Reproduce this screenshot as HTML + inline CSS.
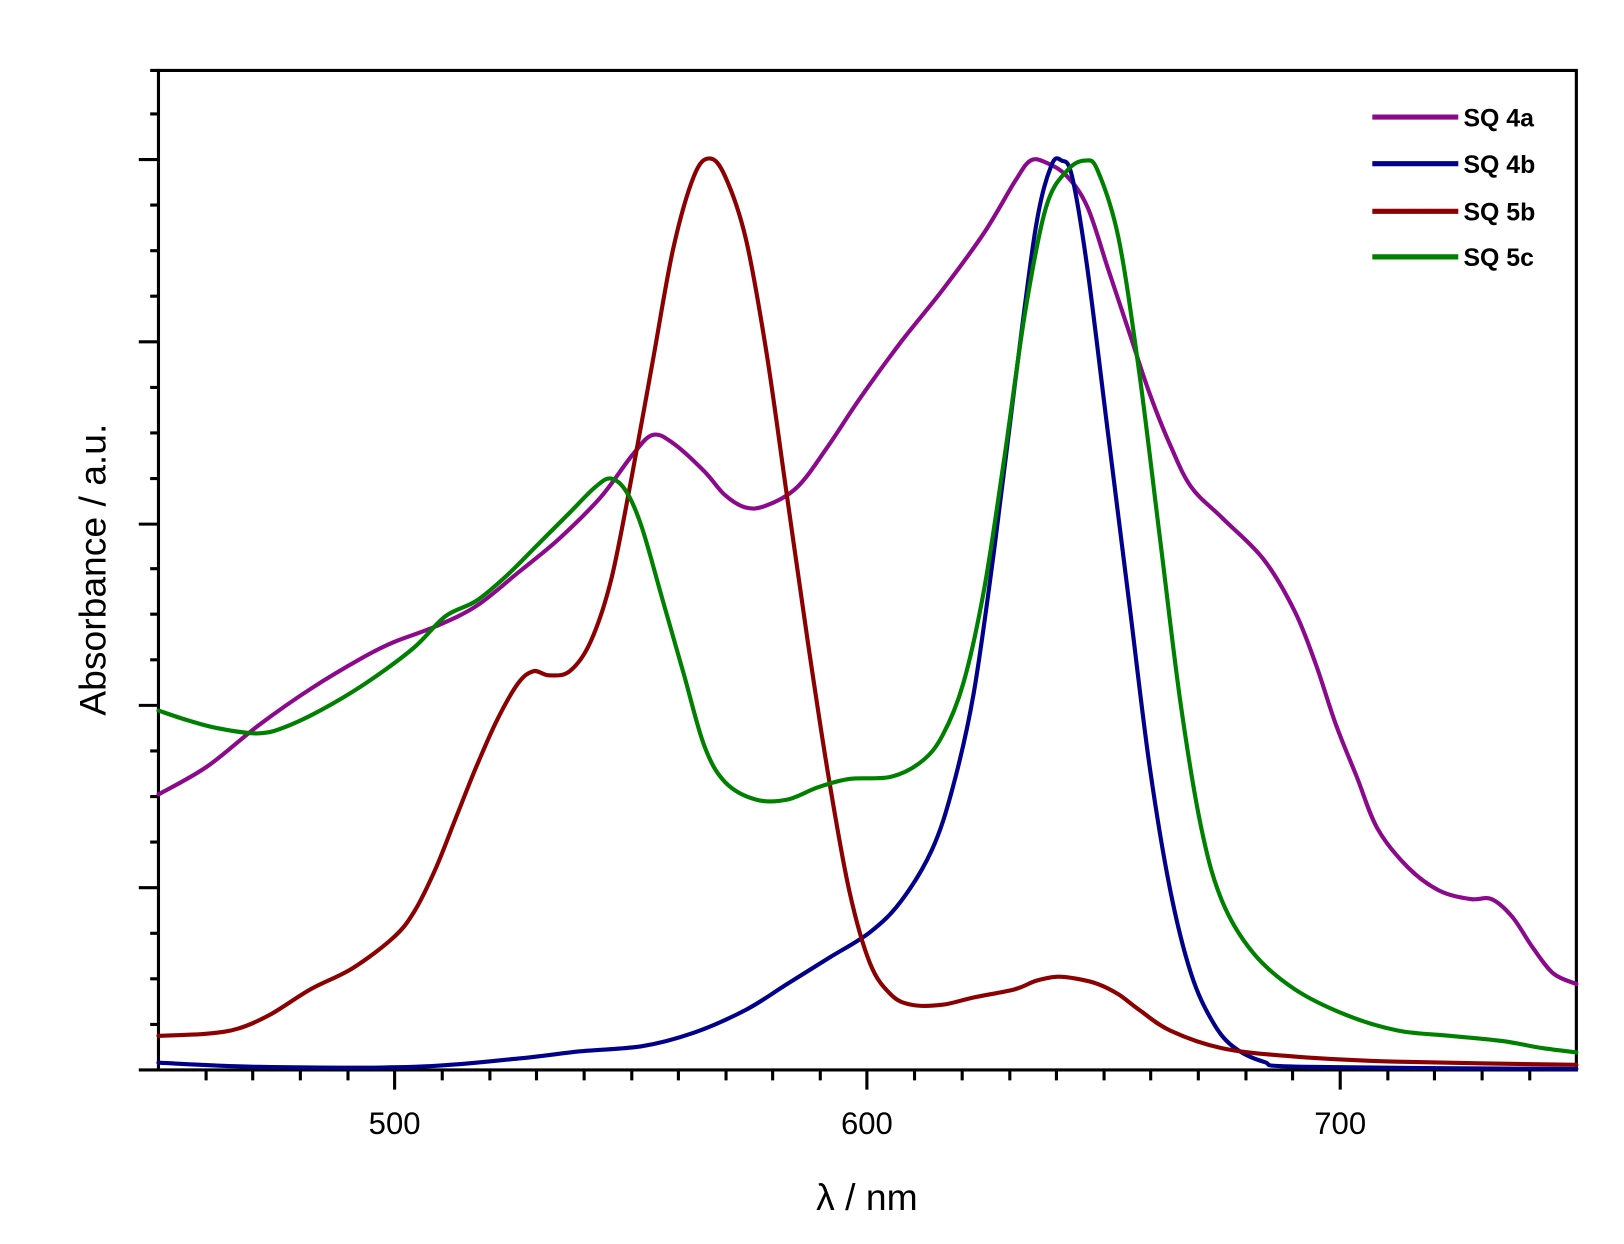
<!DOCTYPE html>
<html><head><meta charset="utf-8"><style>html,body{margin:0;padding:0;background:#fff}svg{display:block}</style></head>
<body>
<svg width="1624" height="1244" viewBox="0 0 1568 1201" preserveAspectRatio="none" xmlns="http://www.w3.org/2000/svg" font-family="Liberation Sans, sans-serif">
<rect width="1568" height="1201" fill="#fff"/>
<g stroke="#000" stroke-width="3" fill="none">
<path d="M153,68 H1522 V1033 H153 Z"/>
<path d="
M381,1033v19 M837,1033v19 M1294,1033v19
M199,1033v10 M244,1033v10 M290,1033v10 M336,1033v10 M427,1033v10 M473,1033v10 M518,1033v10 M564,1033v10 M610,1033v10 M655,1033v10 M701,1033v10 M746,1033v10 M792,1033v10 M883,1033v10 M929,1033v10 M975,1033v10 M1020,1033v10 M1066,1033v10 M1111,1033v10 M1157,1033v10 M1203,1033v10 M1248,1033v10 M1340,1033v10 M1385,1033v10 M1431,1033v10 M1477,1033v10
M153,1033h-19 M153,857h-19 M153,681h-19 M153,506h-19 M153,330h-19 M153,154h-19
M153,989h-8 M153,945h-8 M153,901h-8 M153,813h-8 M153,769h-8 M153,725h-8 M153,637h-8 M153,593h-8 M153,549h-8 M153,462h-8 M153,418h-8 M153,374h-8 M153,286h-8 M153,242h-8 M153,198h-8 M153,110h-8 M153,68h-8"/>
</g>
<g font-size="30" text-anchor="middle" fill="#000">
<text x="381" y="1095">500</text><text x="837" y="1095">600</text><text x="1294" y="1095">700</text>
</g>
<text x="837" y="1168" font-size="36" text-anchor="middle">λ / nm</text>
<text transform="translate(102,550) rotate(-90)" font-size="36" text-anchor="middle">Absorbance / a.u.</text>
<g fill="none" stroke-width="4" stroke-linejoin="round" stroke-linecap="round">
<path id="c1" stroke="#8b0a8b" data-p="153,767 200,740 250,700 300,665 350,635 380,620 420,605 460,585 500,553 540,520 580,480 610,440 630,420 650,428 680,455 700,478 720,490 740,488 770,470 800,430 830,385 870,330 910,280 950,225 980,175 995,155 1010,157 1030,170 1050,200 1070,260 1090,320 1110,380 1130,430 1150,470 1180,500 1220,540 1250,590 1270,640 1290,700 1310,750 1330,800 1360,838 1390,860 1420,868 1440,868 1460,885 1480,915 1500,940 1522,950"/>
<path stroke="#00008b" data-p="153,1026 250,1030 400,1030 500,1022 560,1015 620,1010 670,997 720,975 760,950 800,925 840,900 870,870 900,820 920,760 940,670 960,530 980,370 1000,220 1015,160 1025,155 1035,170 1050,260 1070,420 1090,580 1110,740 1130,860 1150,940 1170,985 1190,1010 1220,1025 1260,1030 1522,1032"/>
<path stroke="#8b0000" data-p="153,1000 200,998 230,993 260,980 300,955 340,935 380,905 400,880 420,840 440,790 460,740 480,695 500,660 515,648 530,652 550,648 570,620 590,560 610,460 630,350 650,240 670,170 685,153 700,170 720,230 740,340 760,480 780,620 800,750 820,860 840,930 860,960 880,970 910,970 940,963 980,955 1000,947 1020,943 1040,945 1060,950 1080,960 1100,975 1130,995 1180,1012 1250,1020 1350,1025 1522,1028"/>
<path stroke="#008000" data-p="153,686 180,695 210,703 250,708 280,700 320,680 360,655 400,625 430,595 460,580 490,555 520,525 550,495 575,470 590,462 605,475 620,510 640,580 660,650 680,720 700,755 730,772 760,772 790,760 820,752 860,750 890,735 910,710 930,660 950,570 970,440 990,300 1010,200 1030,165 1048,155 1060,165 1080,230 1100,360 1120,520 1140,680 1160,800 1180,870 1210,920 1250,955 1300,980 1350,995 1400,1000 1450,1005 1490,1012 1522,1016"/>
</g>
<g stroke-width="5">
<line x1="1325" y1="113" x2="1408" y2="113" stroke="#8b0a8b"/>
<line x1="1325" y1="158" x2="1408" y2="158" stroke="#00008b"/>
<line x1="1325" y1="204" x2="1408" y2="204" stroke="#8b0000"/>
<line x1="1325" y1="248" x2="1408" y2="248" stroke="#008000"/>
</g>
<g font-size="24" font-weight="bold" fill="#000">
<text x="1413" y="122">SQ 4a</text><text x="1413" y="167">SQ 4b</text><text x="1413" y="213">SQ 5b</text><text x="1413" y="257">SQ 5c</text>
</g>
</svg>
<script>
document.querySelectorAll('path[data-p]').forEach(function(el){
  var p=el.getAttribute('data-p').trim().split(/\s+/).map(function(s){return s.split(',').map(Number);});
  var d='M'+p[0][0]+','+p[0][1];
  for(var i=0;i<p.length-1;i++){
    var p0=p[i-1]||p[i],p1=p[i],p2=p[i+1],p3=p[i+2]||p2;
    var c1x=p1[0]+(p2[0]-p0[0])/6,c1y=p1[1]+(p2[1]-p0[1])/6;
    var c2x=p2[0]-(p3[0]-p1[0])/6,c2y=p2[1]-(p3[1]-p1[1])/6;
    d+=' C'+c1x.toFixed(1)+','+c1y.toFixed(1)+' '+c2x.toFixed(1)+','+c2y.toFixed(1)+' '+p2[0]+','+p2[1];
  }
  el.setAttribute('d',d);
});
</script>
</body></html>
